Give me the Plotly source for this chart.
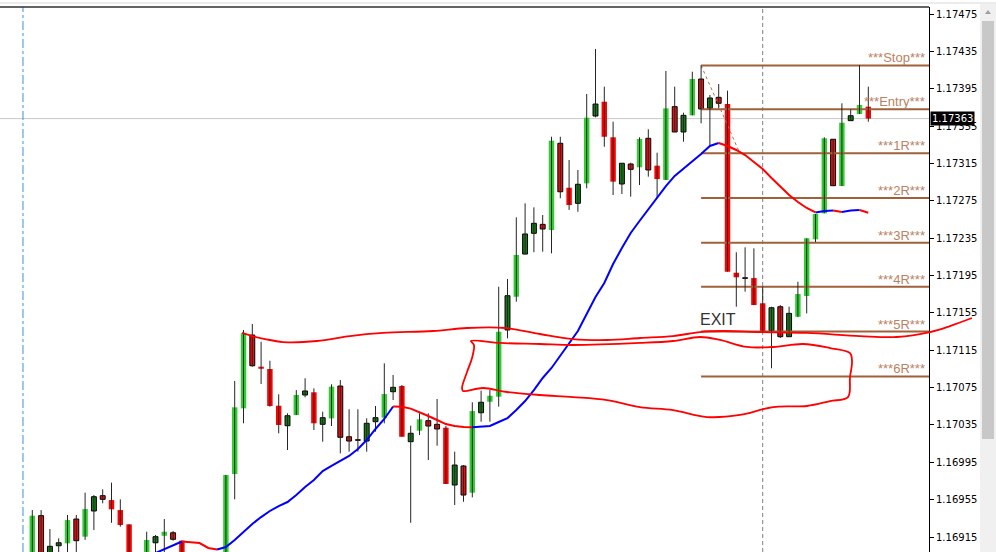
import plotly.graph_objects as go

# ---------------- data ----------------
# candle index (bar number on the chart)
idx = list(range(96))

opens = [1.16874, 1.169379, 1.16890, 1.169057, 1.169083, 1.169343, 1.169154, 1.169429, 1.169593, 1.169546,
         1.169439, 1.169286, 1.16880, 1.16885, 1.169089, 1.169164, 1.169196, 1.169111, 1.16886, 1.16868,
         1.16884, 1.16866, 1.16888, 1.169825, 1.170528, 1.171313, 1.170974, 1.170949, 1.170556, 1.170342,
         1.170457, 1.170671, 1.170700, 1.170357, 1.170421, 1.170767, 1.170224, 1.170192, 1.170178, 1.170385,
         1.170428, 1.170706, 1.170767, 1.170171, 1.170289, 1.170396, 1.170357, 1.170321, 1.169707, 1.169911,
         1.169625, 1.170481, 1.170599, 1.170653, 1.171367, 1.171723, 1.172180, 1.172402, 1.172498, 1.172437,
         1.173366, 1.172890, 1.172723, 1.172937, 1.173658, 1.173811, 1.173430, 1.172930, 1.173144, 1.173109,
         1.173419, 1.173126, 1.172973, 1.173758, 1.173487, 1.173665, 1.174054, 1.173740, 1.173858, 1.173786,
         1.171980, 1.171926, 1.171923, 1.171653, 1.171359, 1.171616, 1.171295, 1.171509, 1.171731, 1.172338,
         1.172616, 1.173409, 1.172908, 1.173608, 1.173679, 1.173758]

highs = [1.169439, 1.169439, 1.169236, 1.169136, 1.169386, 1.169386, 1.169625, 1.169600, 1.169661, 1.169732,
         1.169554, 1.169286, 1.16885, 1.169207, 1.169172, 1.169343, 1.169215, 1.169111, 1.16893, 1.16892,
         1.16890, 1.16894, 1.169814, 1.170821, 1.171367, 1.171431, 1.171241, 1.171038, 1.170678, 1.170475,
         1.170724, 1.170850, 1.170742, 1.170492, 1.170785, 1.170831, 1.170518, 1.170518, 1.170421, 1.170553,
         1.171010, 1.170885, 1.170778, 1.170342, 1.170475, 1.170475, 1.170628, 1.170339, 1.170064, 1.169921,
         1.170593, 1.170717, 1.170724, 1.171830, 1.171913, 1.172573, 1.172723, 1.172680, 1.172598, 1.173436,
         1.173436, 1.173187, 1.173080, 1.173894, 1.174375, 1.173972, 1.173597, 1.173152, 1.173158, 1.173430,
         1.173516, 1.173265, 1.174140, 1.173972, 1.173693, 1.174132, 1.174200, 1.173883, 1.174000, 1.173929,
         1.172199, 1.172252, 1.172241, 1.171830, 1.171616, 1.171634, 1.171616, 1.171884, 1.172349, 1.172609,
         1.173430, 1.173409, 1.173794, 1.173730, 1.174204, 1.173972]

lows = [1.16869, 1.16870, 1.16885, 1.16895, 1.16895, 1.16896, 1.16912, 1.169225, 1.169511, 1.169303,
        1.169261, 1.16875, 1.16865, 1.16880, 1.16890, 1.16895, 1.169111, 1.16880, 1.16860, 1.16862,
        1.16858, 1.16860, 1.16885, 1.169554, 1.170368, 1.170974, 1.170789, 1.170546, 1.170261, 1.170082,
        1.170457, 1.170646, 1.170296, 1.170171, 1.170339, 1.170046, 1.170064, 1.170064, 1.170064, 1.170278,
        1.170368, 1.170617, 1.170224, 1.169303, 1.170242, 1.169975, 1.170128, 1.169718, 1.169493, 1.169528,
        1.169575, 1.170385, 1.170385, 1.170546, 1.171278, 1.171670, 1.172180, 1.172199, 1.172205, 1.172188,
        1.172777, 1.172652, 1.172633, 1.172884, 1.173644, 1.173329, 1.172812, 1.172823, 1.172794, 1.172919,
        1.173008, 1.172777, 1.172973, 1.173487, 1.173383, 1.173665, 1.173580, 1.173347, 1.173740, 1.171991,
        1.171616, 1.171777, 1.171634, 1.171348, 1.170957, 1.171281, 1.171292, 1.171505, 1.171545, 1.172309,
        1.172616, 1.172908, 1.172908, 1.173608, 1.173679, 1.173597]

closes = [1.169379, 1.16875, 1.169051, 1.169089, 1.169332, 1.169111, 1.169450, 1.169582, 1.169554, 1.169447,
          1.169279, 1.16880, 1.16870, 1.169118, 1.169154, 1.169207, 1.169126, 1.16885, 1.16868, 1.16884,
          1.16866, 1.16888, 1.169814, 1.170539, 1.171331, 1.170984, 1.170952, 1.170553, 1.170350, 1.170449,
          1.170671, 1.170714, 1.170368, 1.170428, 1.170760, 1.170218, 1.170178, 1.170186, 1.170368, 1.170428,
          1.170681, 1.170753, 1.170224, 1.170261, 1.170411, 1.170339, 1.170307, 1.169718, 1.169921, 1.169600,
          1.170499, 1.170593, 1.170663, 1.171348, 1.171734, 1.172170, 1.172395, 1.172509, 1.172448, 1.173394,
          1.172847, 1.172705, 1.172927, 1.173640, 1.173786, 1.173436, 1.172955, 1.173152, 1.173087, 1.173412,
          1.173080, 1.172983, 1.173740, 1.173487, 1.173665, 1.174054, 1.173733, 1.173851, 1.173794, 1.171991,
          1.171931, 1.171920, 1.171634, 1.171348, 1.171605, 1.171295, 1.171545, 1.171752, 1.172349, 1.172609,
          1.173419, 1.172912, 1.173586, 1.173661, 1.173776, 1.173630]

# G = highlighted bull, R = highlighted bear, g = plain bull, r = plain bear
styles = ("GrggGrGgrR" "RRRGgGrRRG" "rGGGGrRRRg" "GgRgGrrrgg"
          "GgRgGrrRgr" "GgGGgGggrG" "rRgGgRRgrG" "rRGrgGrgrR"
          "RrRRgrgGGG" "GrGgGR")

# moving average (starts at bar 12)
ma_start = 12
ma = [1.168883, 1.168936, 1.168979, 1.169022, 1.169065, 1.169102, 1.169098, 1.169086, 1.169033, 1.169017,
      1.169043, 1.169118, 1.169204, 1.169290, 1.169364, 1.169429, 1.169482, 1.169525, 1.169600, 1.169686,
      1.169761, 1.169857, 1.169911, 1.169964, 1.170018, 1.170093, 1.170189, 1.170307, 1.170414, 1.170548,
      1.170544, 1.170525, 1.170489, 1.170446, 1.170403, 1.170360, 1.170339, 1.170328, 1.170326, 1.170333,
      1.170339, 1.170382, 1.170424, 1.170510, 1.170606, 1.170724, 1.170853, 1.170960, 1.171088, 1.171217,
      1.171356, 1.171538, 1.171720, 1.171870, 1.172073, 1.172245, 1.172405, 1.172534, 1.172662, 1.172780,
      1.172908, 1.173016, 1.173091, 1.173176, 1.173251, 1.173337, 1.173369, 1.173337, 1.173294, 1.173240,
      1.173165, 1.173091, 1.172994, 1.172898, 1.172812, 1.172737, 1.172673, 1.172625, 1.172641, 1.172646,
      1.172630, 1.172646, 1.172652, 1.172623]

# trade levels
level_names = ["***Stop***", "***Entry***", "***1R***", "***2R***", "***3R***", "***4R***", "***5R***", "***6R***"]
level_prices = [1.17420, 1.17373, 1.17326, 1.17278, 1.17230, 1.17183, 1.17135, 1.17087]
level_start = 76
trade_close_bar = 80.4

current_price = 1.17363
separator_bar = -1.06
vline_bar = 83
exit_label = ("EXIT", 77.9, 1.17148)

# y-axis tick labels
tick_vals = [1.16915 + 0.0004 * k for k in range(15)]
tick_text = ["%.5f" % v for v in tick_vals]

# free-hand drawings (bar index, price)
wave_x = [23.83, 24.97, 26.44, 28.49, 32.35, 36.10, 39.85, 45.53, 49.40, 53.72, 57.69, 61.44, 65.31, 69.06,
          72.81, 75.88, 78.49, 82.69, 88.03, 94.06, 98.26, 102.01, 104.28, 106.78]
wave_y = [1.171335, 1.171302, 1.171270, 1.171238, 1.171249, 1.171302, 1.171335, 1.171356, 1.171388, 1.171388,
          1.171324, 1.171270, 1.171260, 1.171281, 1.171302, 1.171345, 1.171356, 1.171345, 1.171335, 1.171302,
          1.171292, 1.171345, 1.171409, 1.171495]
loop_x = [49.85, 53.15, 57.69, 61.44, 69.06, 72.81, 75.88, 78.15, 81.22, 84.18, 87.58, 90.65, 92.92, 93.15,
          92.92, 92.69, 90.65, 88.03, 84.18, 80.42, 76.67, 72.81, 69.06, 65.31, 61.44, 57.69, 53.94, 51.22,
          48.94, 48.83, 49.40, 49.97, 50.19, 49.85]
loop_y = [1.171249, 1.171228, 1.171217, 1.171206, 1.171228, 1.171249, 1.171292, 1.171260, 1.171185, 1.171185,
          1.171217, 1.171174, 1.171120, 1.171024, 1.170863, 1.170649, 1.170606, 1.170553, 1.170542, 1.170457,
          1.170435, 1.170510, 1.170542, 1.170617, 1.170649, 1.170671, 1.170703, 1.170746, 1.170714, 1.170746,
          1.170917, 1.171067, 1.171206, 1.171249]

# ---------------- figure ----------------
PITCH = 8.8            # px per bar
X0 = -32.3 / PITCH     # left edge of chart in bar units
PLOT_W = 929
FIG_W, FIG_H = 996, 552
PLOT_H = FIG_H - 7
Y_RANGE = [1.16899, 1.174825]

fig = go.Figure()

# trade level lines (behind candles)
x_right = X0 + PLOT_W / PITCH
for name, p in zip(level_names, level_prices):
    fig.add_trace(go.Scatter(x=[level_start, x_right], y=[p, p], mode="lines",
                             line=dict(color="#a0603a", width=2), hoverinfo="skip"))
# order connector (dotted)
fig.add_trace(go.Scatter(x=[level_start, trade_close_bar], y=[level_prices[0], level_prices[2]], mode="lines",
                         line=dict(color="#b07050", width=1, dash="dot"), hoverinfo="skip"))

# wicks
wx, wy = [], []
for i, h, l in zip(idx, highs, lows):
    wx += [i, i, None]
    wy += [l, h, None]
fig.add_trace(go.Scatter(x=wx, y=wy, mode="lines", line=dict(color="#252525", width=1), hoverinfo="skip"))

# bodies
style_map = {
    "G": dict(color="#32cd32", lc="#32cd32", lw=0, w=0.62),
    "R": dict(color="#ff0000", lc="#ff0000", lw=0, w=0.62),
    "g": dict(color="#157a15", lc="#000000", lw=1, w=0.56),
    "r": dict(color="#e81010", lc="#000000", lw=1, w=0.56),
}
for s, st in style_map.items():
    xs = [i for i in idx if styles[i] == s]
    base = [opens[i] for i in xs]
    hgt = [closes[i] - opens[i] for i in xs]
    fig.add_trace(go.Bar(x=xs, y=hgt, base=base, width=st["w"],
                         marker=dict(color=st["color"], line=dict(color=st["lc"], width=st["lw"])),
                         hoverinfo="skip"))

# coloured moving average: blue when rising, red when falling
ma_x = list(range(ma_start, ma_start + len(ma)))
runs = []
for k in range(len(ma) - 1):
    col = "#0000ff" if ma[k + 1] >= ma[k] else "#ff0000"
    if runs and runs[-1][0] == col:
        runs[-1][1].append(k + 1)
    else:
        runs.append([col, [k, k + 1]])
for col, ks in runs:
    fig.add_trace(go.Scatter(x=[ma_x[k] for k in ks], y=[ma[k] for k in ks], mode="lines",
                             line=dict(color=col, width=2), hoverinfo="skip"))

# free-hand drawings on a full-width overlay subplot
fig.add_trace(go.Scatter(x=wave_x, y=wave_y, mode="lines", line=dict(color="#ff0000", width=1.8, shape="spline"),
                         xaxis="x2", yaxis="y2", hoverinfo="skip"))
fig.add_trace(go.Scatter(x=loop_x, y=loop_y, mode="lines", line=dict(color="#ff0000", width=1.8, shape="spline"),
                         xaxis="x2", yaxis="y2", hoverinfo="skip"))

def py(px_from_top):
    return (FIG_H - px_from_top) / PLOT_H

shapes = [
    # current price line
    dict(type="line", xref="x", yref="y", x0=X0, x1=x_right, y0=current_price, y1=current_price,
         line=dict(color="#c8c8c8", width=1), layer="below"),
    # period separator
    dict(type="line", xref="x", yref="paper", x0=separator_bar, x1=separator_bar, y0=0, y1=1,
         line=dict(color="#3a8ee6", width=1, dash="dashdot")),
    # vertical line
    dict(type="line", xref="x", yref="paper", x0=vline_bar, x1=vline_bar, y0=0, y1=1,
         line=dict(color="#808080", width=1, dash="4px,3px"), layer="below"),
    # top border
    dict(type="line", xref="paper", yref="paper", x0=0, x1=PLOT_W / FIG_W, y0=1, y1=1,
         line=dict(color="#303030", width=1.5)),
    dict(type="line", xref="paper", yref="paper", x0=0, x1=1, y0=py(3), y1=py(3),
         line=dict(color="#d8d8d8", width=1)),
    # scrollbar
    dict(type="rect", xref="paper", yref="paper", x0=980 / FIG_W, x1=1, y0=0, y1=py(4),
         fillcolor="#f0f0f0", line=dict(width=0)),
    dict(type="rect", xref="paper", yref="paper", x0=982 / FIG_W, x1=994 / FIG_W,
         y0=py(439), y1=py(21), fillcolor="#c8c8c8", line=dict(width=0)),
    dict(type="path", xref="paper", yref="paper",
         path="M %f %f L %f %f L %f %f Z" % (985 / FIG_W, py(14), 991 / FIG_W, py(14), 988 / FIG_W, py(10)),
         fillcolor="#a0a0a0", line=dict(width=0)),
]

annotations = []
for name, p in zip(level_names, level_prices):
    annotations.append(dict(xref="paper", yref="y", x=927 / FIG_W, y=p, text=name, showarrow=False,
                            xanchor="right", yanchor="bottom", yshift=-2,
                            font=dict(family="Liberation Sans, Arial", size=13, color="#ba8262")))
annotations.append(dict(xref="x", yref="y", x=exit_label[1], y=exit_label[2], text=exit_label[0],
                        showarrow=False, font=dict(family="Liberation Sans Narrow, Liberation Sans", size=16,
                                                   color="#333333")))
annotations.append(dict(xref="paper", yref="y", x=930 / FIG_W, y=current_price, text="%.5f" % current_price,
                        showarrow=False, xanchor="left", bgcolor="#000000", borderpad=1,
                        font=dict(family="DejaVu Sans", size=10, color="#ffffff")))

fig.update_layout(
    width=FIG_W, height=FIG_H,
    margin=dict(l=0, r=0, t=7, b=0),
    paper_bgcolor="#ffffff", plot_bgcolor="rgba(0,0,0,0)",
    showlegend=False, barmode="overlay", hovermode=False,
    xaxis=dict(domain=[0, PLOT_W / FIG_W], range=[X0, x_right], showticklabels=False, showgrid=False,
               zeroline=False, showline=False, ticks=""),
    yaxis=dict(side="right", anchor="x", range=Y_RANGE, tickvals=tick_vals, ticktext=tick_text,
               ticks="outside", ticklen=4, tickcolor="#000000", showline=True, linecolor="#000000",
               linewidth=1, showgrid=False, zeroline=False,
               tickfont=dict(family="DejaVu Sans", size=10, color="#000000")),
    xaxis2=dict(domain=[0, 1], anchor="y2", range=[X0, X0 + FIG_W / PITCH], visible=False),
    yaxis2=dict(domain=[0, 1], anchor="x2", range=Y_RANGE, visible=False),
    shapes=shapes, annotations=annotations,
)

fig.write_html("out.html", config={"displayModeBar": False},
               post_script="document.body.style.margin='0px';document.body.style.overflow='hidden';")
